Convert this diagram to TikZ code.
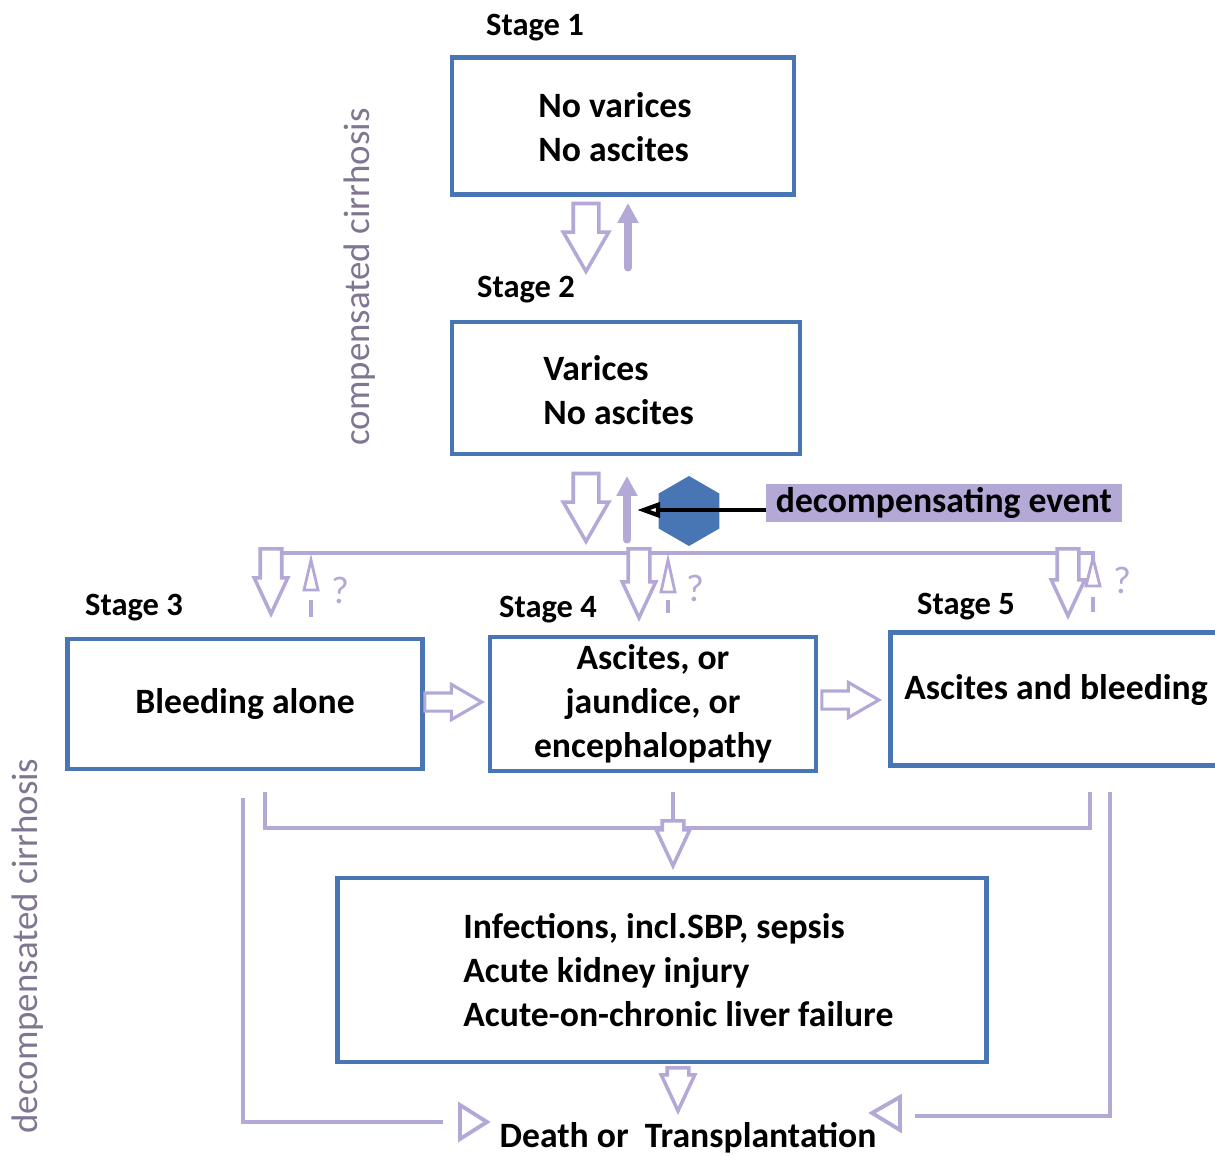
\documentclass[tikz,border=0pt]{standalone}
\usepackage{fontspec}
\setmainfont{Carlito}
\usetikzlibrary{shapes,arrows.meta,positioning}
\definecolor{boxblue}{RGB}{72,118,180}
\definecolor{lav}{RGB}{180,168,214}
\definecolor{sidegray}{RGB}{128,118,146}

\begin{document}
\begin{tikzpicture}[x=0.02cm, y=-0.02cm,
    stagebox/.style={rectangle, draw=boxblue, line width=2.8pt, inner sep=0pt, font=\bfseries\fontsize{20.3}{25}\selectfont},
    boxtext/.style={font=\bfseries\fontsize{20.3}{25}\selectfont, align=left, anchor=west, inner sep=0pt},
    stagelabel/.style={font=\bfseries\fontsize{18.5}{20}\selectfont},
    sidelabel/.style={rotate=90, text=sidegray, font=\fontsize{21}{24}\selectfont},
    bigdown/.style={single arrow, draw=lav, fill=white, line width=2pt, inner sep=0pt, inner ysep=0.22cm, single arrow head extend=0.2cm, single arrow tip angle=60, minimum height=1.36cm, rotate=-90, anchor=tip},
    middown/.style={single arrow, draw=lav, fill=white, line width=2pt, inner sep=0pt, inner ysep=0.18cm, single arrow head extend=0.12cm, single arrow tip angle=50, minimum height=1.3cm, rotate=-90, anchor=tip},
    smallright/.style={single arrow, draw=lav, fill=white, line width=1.8pt, inner sep=0pt, inner ysep=0.15cm, single arrow head extend=0.17cm, single arrow tip angle=60, minimum height=1.14cm, anchor=tip},
    thinup/.style={draw=lav, line width=4pt, line cap=round, -{Triangle[length=0.4cm, width=0.4cm]}},
    lavline/.style={draw=lav, line width=2.2pt},
    query/.style={text=lav, font=\fontsize{22}{24}\selectfont}
]
\clip (0,0) rectangle (1215,1156);

% compensated stages
\node[stagelabel] (lab1) at (535,28) {Stage 1};
\node[stagebox, minimum width=6.84cm, minimum height=2.74cm] (st1) at (623,126) {};
\node[boxtext] (st1text) at (538,127) {No varices\\No ascites};
\node[stagelabel] (lab2) at (526,290) {Stage 2};
\node[stagebox, minimum width=6.96cm, minimum height=2.64cm] (st2) at (626,388) {};
\node[boxtext] (st2text) at (543,390) {Varices\\No ascites};

\node[bigdown] (a12) at (586,275) {};
\draw[thinup] (628,268) -- (628,203);
\node[bigdown] (a2s) at (586,545) {};
\draw[thinup] (627,540) -- (627,476);

% decompensating event
\node[regular polygon, regular polygon sides=6, shape border rotate=30, fill=boxblue, minimum size=1.4cm, inner sep=0pt] (hex) at (689,511) {};
\node[fill=lav, minimum width=7.12cm, minimum height=0.78cm, inner sep=0pt, font=\bfseries\fontsize{20.3}{22}\selectfont] (event) at (944,503) {decompensating event};
\coordinate (evt) at (766,510);
\draw[black, line width=2.4pt, -{Triangle[open, length=0.46cm, width=0.3cm]}] (evt) -- (637,510);

% split towards decompensated stages
\coordinate (splitL) at (262,553);
\coordinate (splitR) at (1093,553);
\draw[lavline] (splitL) -- (splitR) -- (1093,560);

\node[middown] (a3) at (271,618) {};
\node[middown, minimum height=1.38cm] (a4) at (639,622) {};
\node[middown, minimum height=1.34cm] (a5) at (1068,620) {};

% back arrows with question marks
\foreach \x/\t/\b/\s/\e in {311/560/590/600/617, 668/560/592/600/613, 1093/558/586/597/612} {
  \draw[lavline, line width=1.6pt] (\x-7,\b) -- (\x,\t) -- (\x+7,\b) -- cycle;
  \draw[lavline, line width=1.8pt] (\x,\s) -- (\x,\e);
}
\node[query] (q3) at (340,590) {?};
\node[query] (q4) at (695,588) {?};
\node[query] (q5) at (1122,580) {?};

% decompensated stages
\node[stagelabel] (lab3) at (134,608) {Stage 3};
\node[stagebox, minimum width=7.1cm, minimum height=2.6cm] (st3) at (245,704) {Bleeding alone};
\node[stagelabel] (lab4) at (548,610) {Stage 4};
\node[stagebox, minimum width=6.52cm, minimum height=2.68cm, align=center] (st4) at (653,704) {Ascites, or\\jaundice, or\\encephalopathy};
\node[stagelabel] (lab5) at (966,607) {Stage 5};
\node[stagebox, minimum width=6.94cm, minimum height=2.66cm] (st5) at (1064,699) {};
\node[boxtext] (st5text) at (904,690) {Ascites and bleeding};

\node[smallright] (a34) at (485,702) {};
\node[smallright] (a45) at (882,700) {};

% complications
\coordinate (c3) at (265,792);
\coordinate (c4) at (673,792);
\coordinate (c5) at (1090,792);
\draw[lavline] (c3) -- (265,828) -- (1090,828) -- (c5);
\draw[lavline] (c4) -- (673,828);
\node[middown, minimum height=0.9cm] (a6) at (673,870) {};

\node[stagebox, minimum width=13cm, minimum height=3.68cm] (comp) at (662,970) {};
\node[boxtext] (comptext) at (463,970) {Infections, incl.SBP, sepsis\\Acute kidney injury\\Acute-on-chronic liver failure};

\node[middown, minimum height=0.86cm] (a7) at (678,1115) {};
\node[font=\bfseries\fontsize{20.3}{22}\selectfont] (death) at (688,1138) {Death or~ Transplantation};

% direct routes to death
\draw[lavline] (243,798) -- (243,1122) -- (443,1122);
\draw[lavline] (460,1105) -- (487,1122) -- (460,1139) -- cycle;
\draw[lavline] (1110,792) -- (1110,1116) -- (915,1116);
\draw[lavline] (900,1097) -- (872,1113) -- (900,1130) -- cycle;

% phase labels
\node[sidelabel] (comp_lab) at (360,277) {compensated cirrhosis};
\node[sidelabel] (decomp_lab) at (28,946) {decompensated cirrhosis};

\end{tikzpicture}
\end{document}
